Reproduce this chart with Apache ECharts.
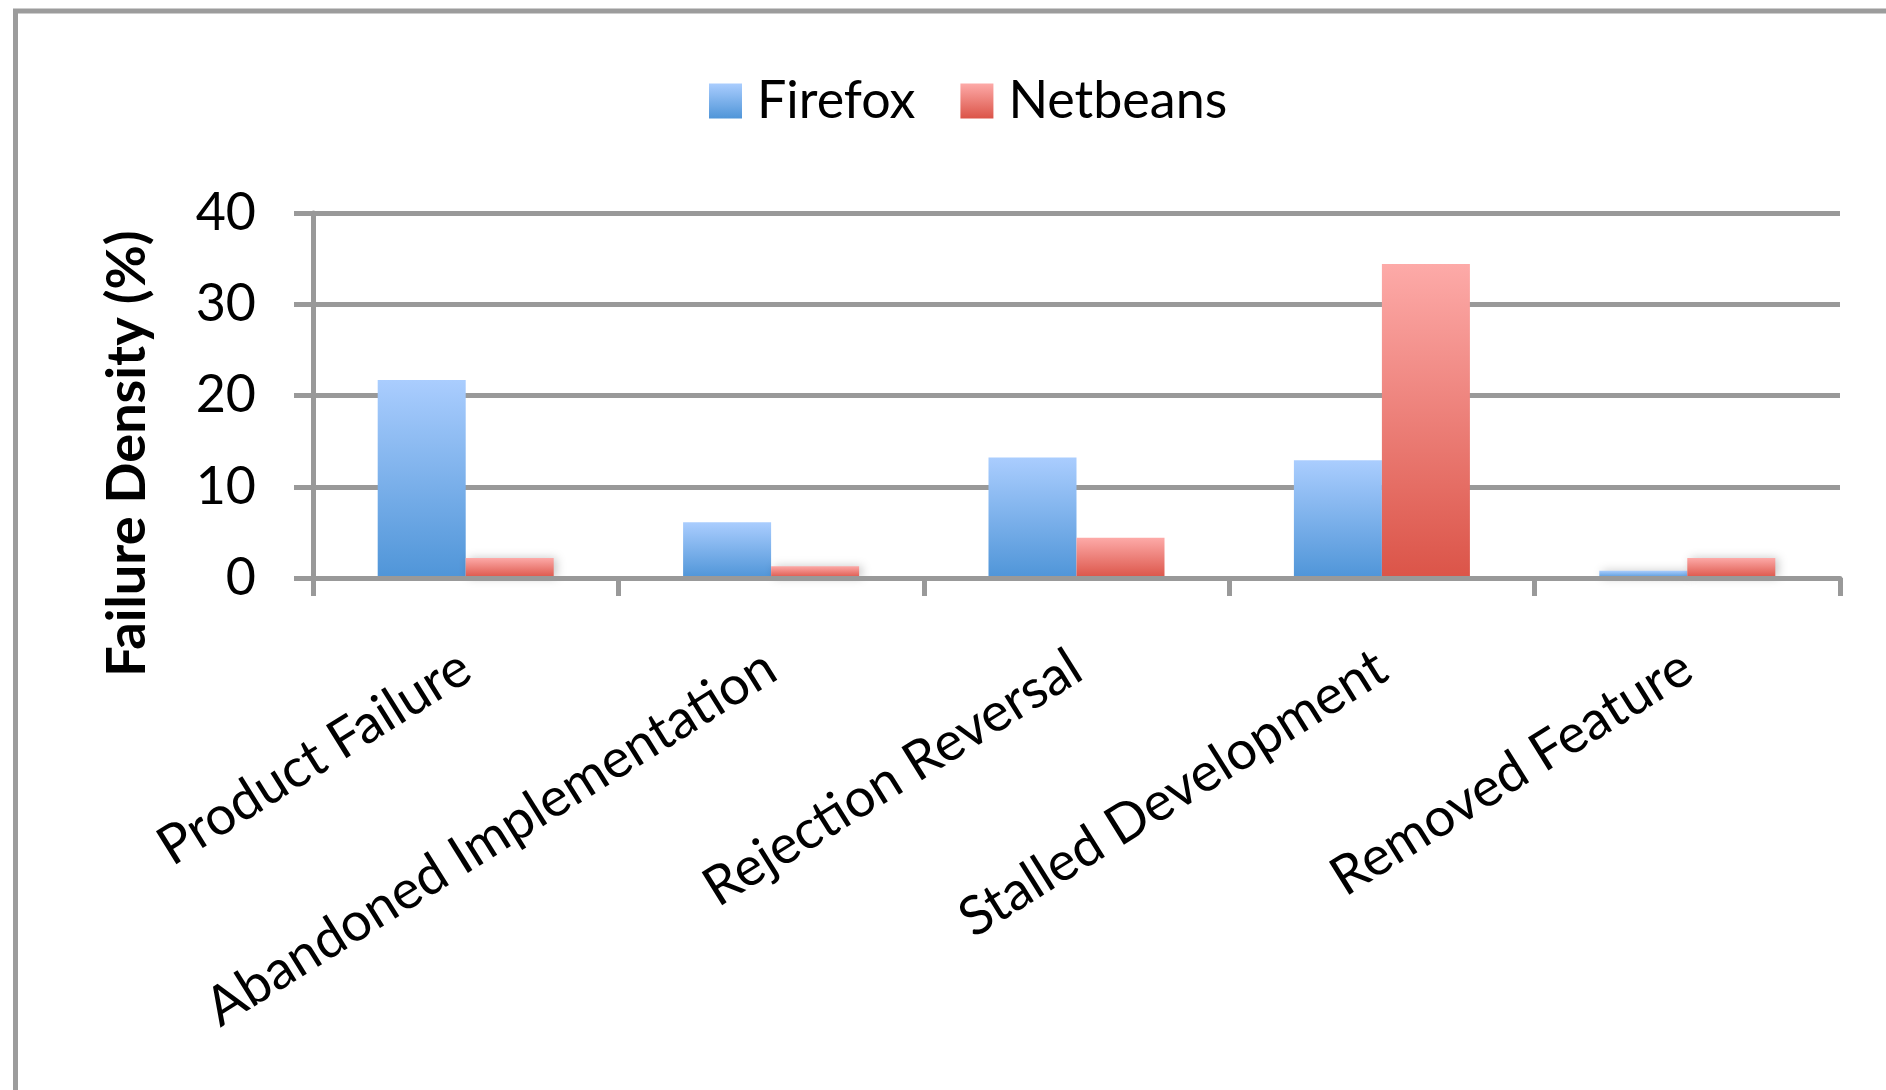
<!DOCTYPE html>
<html lang="en">
<head>
    <meta charset="UTF-8">
    <title>Failure Density</title>
    <script src="https://cdn.jsdelivr.net/npm/echarts@6/dist/echarts.min.js"></script>
    <style type="text/css">
        html, body { margin: 0; padding: 0; background: #fff; }
        #chartData { width: 1886px; height: 1090px; }
    </style>
</head>
<body>
<div id="chartData"></div>
<script type="text/javascript">
    var categories = ['Product Failure', 'Abandoned Implementation', 'Rejection Reversal', 'Stalled Development', 'Removed Feature'];
    var firefoxData = [21.7, 6.1, 13.2, 12.9, 0.8];
    var netbeansData = [2.2, 1.3, 4.4, 34.4, 2.2];
    var yTicks = [0, 10, 20, 30, 40];

    var fontName = 'Lato';
    var gray = '#999999';

    function barColor(top, bottom) {
        return new echarts.graphic.LinearGradient(0, 0, 0, 1, [
            {offset: 0, color: top},
            {offset: 1, color: bottom}
        ]);
    }

    var myChart = echarts.init(document.getElementById('chartData'));

    var option = {
        backgroundColor: '#fff',
        textStyle: {fontFamily: fontName, color: '#000'},
        graphic: [{
            type: 'rect',
            silent: true,
            shape: {x: 15.5, y: 11, width: 3000, height: 3000},
            style: {fill: 'none', stroke: '#9c9c9c', lineWidth: 5}
        }],
        legend: {
            left: 704,
            top: 70,
            itemWidth: 33,
            itemHeight: 35,
            itemGap: 45,
            icon: 'rect',
            textStyle: {fontFamily: fontName, fontSize: 52, color: '#000', padding: [0, 0, 0, 10]},
            data: ['Firefox', 'Netbeans']
        },
        grid: {left: 313, right: 46, top: 213, bottom: 512},
        xAxis: {
            type: 'category',
            data: categories,
            z: 5,
            axisLine: {lineStyle: {color: gray, width: 5}},
            axisTick: {show: true, length: 18, lineStyle: {color: gray, width: 5}},
            axisLabel: {
                interval: 0,
                rotate: 32,
                margin: 85,
                fontFamily: fontName,
                fontSize: 54,
                color: '#000'
            }
        },
        yAxis: {
            type: 'value',
            min: yTicks[0],
            max: yTicks[yTicks.length - 1],
            interval: 10,
            name: 'Failure Density (%)',
            nameLocation: 'middle',
            nameRotate: 90,
            nameGap: 158,
            nameTextStyle: {
                fontFamily: fontName,
                fontWeight: 'bold',
                fontSize: 54,
                color: '#000',
                padding: [0, 116, 0, 0]
            },
            axisLine: {show: true, lineStyle: {color: gray, width: 5}},
            axisTick: {show: true, length: 19, lineStyle: {color: gray, width: 5}},
            splitLine: {show: true, lineStyle: {color: gray, width: 5}},
            axisLabel: {margin: 57, fontFamily: fontName, fontSize: 52, color: '#000'}
        },
        series: [
            {
                name: 'Firefox',
                type: 'bar',
                barWidth: 88,
                barGap: '0%',
                itemStyle: {
                    color: barColor('#aacdfe', '#4f95d8'),
                    shadowBlur: 10,
                    shadowOffsetX: 3,
                    shadowColor: 'rgba(0,0,0,0.22)'
                },
                data: firefoxData
            },
            {
                name: 'Netbeans',
                type: 'bar',
                barWidth: 88,
                barGap: '0%',
                itemStyle: {
                    color: barColor('#fdaaa8', '#db5448'),
                    shadowBlur: 10,
                    shadowOffsetX: 3,
                    shadowColor: 'rgba(0,0,0,0.22)'
                },
                data: netbeansData
            }
        ]
    };

    myChart.setOption(option);
</script>
</body>
</html>
